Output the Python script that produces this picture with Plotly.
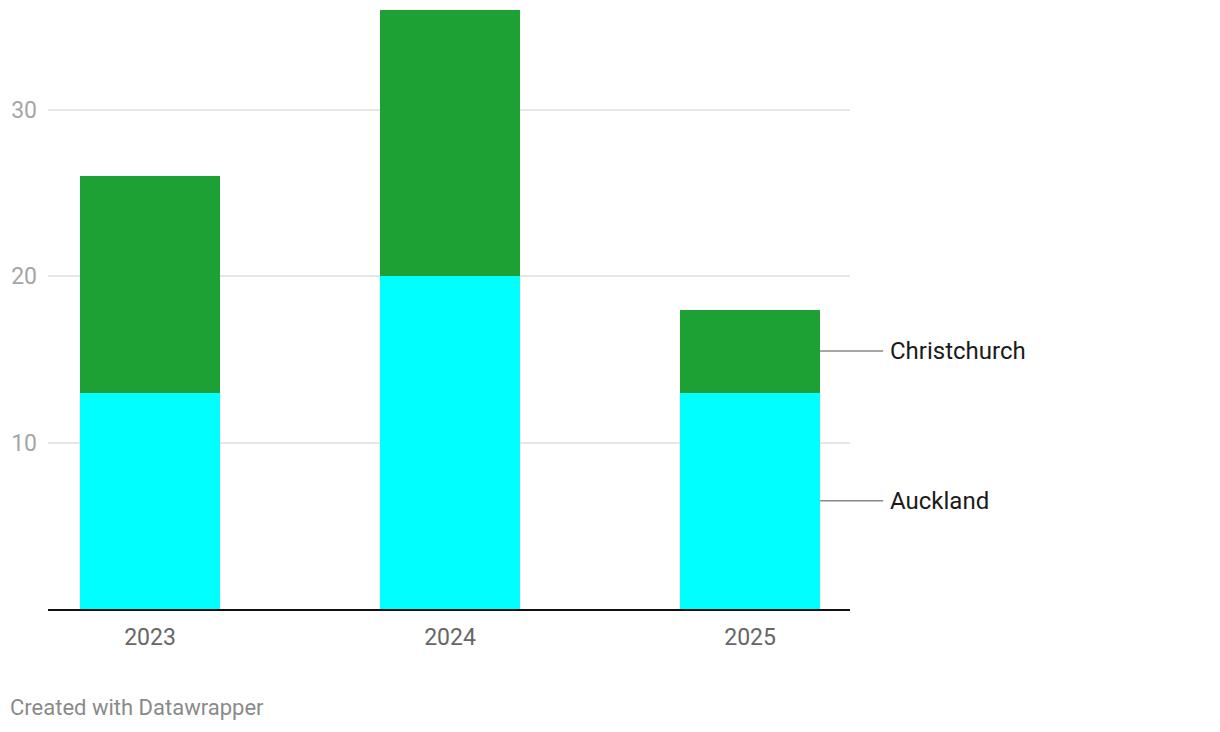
import plotly.graph_objects as go

years = ["2023", "2024", "2025"]
auckland = [13, 20, 13]
christchurch = [13, 16, 5]
series_names = ["Auckland", "Christchurch"]
y_ticks = [10, 20, 30]

AUCK_COLOR = "#00ffff"
CHCH_COLOR = "#1ea134"
FONT = "Roboto"

XR = [-0.34, 2.333]
YR = [0, 36]
BAR_W = 0.4667

xpos = list(range(len(years)))

fig = go.Figure()
fig.add_trace(go.Bar(x=xpos, y=auckland, name=series_names[0], marker=dict(color=AUCK_COLOR, line=dict(width=0)),
                     width=BAR_W, hoverinfo="y"))
fig.add_trace(go.Bar(x=xpos, y=christchurch, name=series_names[1], marker=dict(color=CHCH_COLOR, line=dict(width=0)),
                     width=BAR_W, hoverinfo="y"))


def px(xv):
    return (xv - XR[0]) / (XR[1] - XR[0])


def py(yv):
    return (yv - YR[0]) / (YR[1] - YR[0])


# direct labels at last bar
last = len(years) - 1
bar_right = xpos[last] + BAR_W / 2
label_mid = [auckland[last] / 2, auckland[last] + christchurch[last] / 2]
for name, ymid in zip(series_names, label_mid):
    fig.add_shape(type="line", xref="paper", yref="paper", x0=px(bar_right), x1=px(bar_right + 0.21),
                  y0=py(ymid), y1=py(ymid), line=dict(color="#888888", width=1.5))
    fig.add_annotation(x=px(bar_right + 0.226), y=py(ymid), xref="paper", yref="paper", text=name,
                       showarrow=False, xanchor="left", yanchor="middle",
                       font=dict(family=FONT, size=24, color="#1a1a1a"))

fig.add_annotation(x=-40 / 802, y=-0.165, xref="paper", yref="paper", text="Created with Datawrapper",
                   showarrow=False, xanchor="left", yanchor="middle",
                   font=dict(family=FONT, size=22, color="#8a8a8a"))

fig.update_layout(
    barmode="stack",
    width=1220, height=732,
    margin=dict(l=40, r=378, t=2, b=131),
    paper_bgcolor="white", plot_bgcolor="white",
    showlegend=False,
    font=dict(family=FONT),
    xaxis=dict(range=XR, tickvals=xpos, ticktext=years, showgrid=False,
               showline=True, linecolor="#111111", linewidth=2, zeroline=False,
               tickfont=dict(family=FONT, size=23, color="#666666"), ticks="", ticklabelstandoff=6),
    yaxis=dict(range=YR, tickvals=y_ticks, showgrid=True, gridcolor="#e6e6e6", gridwidth=1.5,
               zeroline=False, showline=False, ticks="",
               tickfont=dict(family=FONT, size=23, color="#a6a6a6"), ticklabelstandoff=10),
)

fig.write_html("out.html")
